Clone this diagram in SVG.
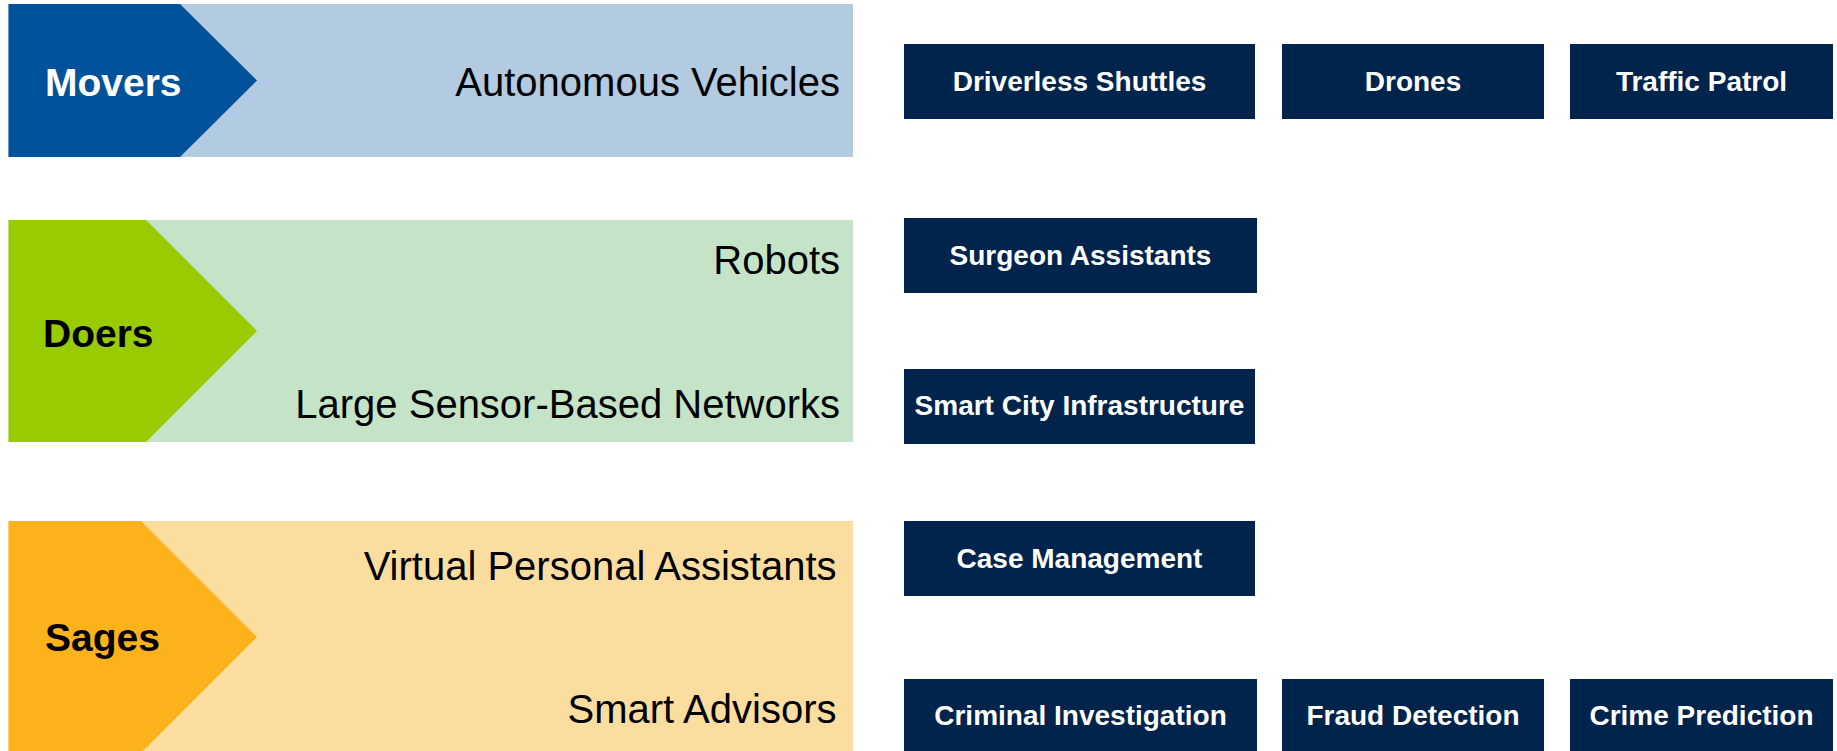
<svg xmlns="http://www.w3.org/2000/svg" width="1837" height="751" viewBox="0 0 1837 751">
  <style>
    .cat { font-family: "Liberation Sans", Arial, sans-serif; font-weight: bold; font-size: 39px; }
    .sub { font-family: "Liberation Sans", Arial, sans-serif; font-size: 40px; fill: #000000; text-anchor: end; }
    .box { fill: #00244C; }
    .boxt { font-family: "Liberation Sans", Arial, sans-serif; font-weight: bold; font-size: 28px; fill: #FFFFFF; text-anchor: middle; }
  </style>
  <rect x="0" y="0" width="1837" height="751" fill="#FFFFFF"/>

  <g id="movers">
    <rect x="8.5" y="4" width="844.5" height="153" fill="#B3CBE1"/>
    <polygon points="8.5,4 180,4 257,80.5 180,157 8.5,157" fill="#00529B"/>
    <text class="cat" x="45" y="96" fill="#FFFFFF">Movers</text>
    <text class="sub" x="840" y="96">Autonomous Vehicles</text>
  </g>

  <g id="doers">
    <rect x="8.5" y="220" width="844.5" height="222" fill="#C5E3C6"/>
    <polygon points="8.5,220 146,220 257,331 146,442 8.5,442" fill="#99CC00"/>
    <text class="cat" x="43" y="347" fill="#000000">Doers</text>
    <text class="sub" x="840" y="274">Robots</text>
    <text class="sub" x="840" y="418">Large Sensor-Based Networks</text>
  </g>

  <g id="sages">
    <rect x="8.5" y="521" width="844.5" height="232" fill="#FCDDA0"/>
    <polygon points="8.5,521 141,521 257,637 141,753 8.5,753" fill="#FDB11B"/>
    <text class="cat" x="45" y="651" fill="#000000">Sages</text>
    <text class="sub" x="836.5" y="580">Virtual Personal Assistants</text>
    <text class="sub" x="836.5" y="723">Smart Advisors</text>
  </g>

  <g id="driverless-shuttles">
    <rect class="box" x="904" y="44" width="351" height="75"/>
    <text class="boxt" x="1079.5" y="91">Driverless Shuttles</text>
  </g>
  <g id="drones">
    <rect class="box" x="1282" y="44" width="262" height="75"/>
    <text class="boxt" x="1413" y="91">Drones</text>
  </g>
  <g id="traffic-patrol">
    <rect class="box" x="1570" y="44" width="263" height="75"/>
    <text class="boxt" x="1701.5" y="91">Traffic Patrol</text>
  </g>

  <g id="surgeon-assistants">
    <rect class="box" x="904" y="218" width="353" height="75"/>
    <text class="boxt" x="1080.5" y="265">Surgeon Assistants</text>
  </g>
  <g id="smart-city-infrastructure">
    <rect class="box" x="904" y="369" width="351" height="75"/>
    <text class="boxt" x="1079.5" y="415">Smart City Infrastructure</text>
  </g>

  <g id="case-management">
    <rect class="box" x="904" y="521" width="351" height="75"/>
    <text class="boxt" x="1079.5" y="568">Case Management</text>
  </g>
  <g id="criminal-investigation">
    <rect class="box" x="904" y="679" width="353" height="75"/>
    <text class="boxt" x="1080.5" y="725">Criminal Investigation</text>
  </g>
  <g id="fraud-detection">
    <rect class="box" x="1282" y="679" width="262" height="75"/>
    <text class="boxt" x="1413" y="725">Fraud Detection</text>
  </g>
  <g id="crime-prediction">
    <rect class="box" x="1570" y="679" width="263" height="75"/>
    <text class="boxt" x="1701.5" y="725">Crime Prediction</text>
  </g>

  <g id="connectors"></g>
</svg>
